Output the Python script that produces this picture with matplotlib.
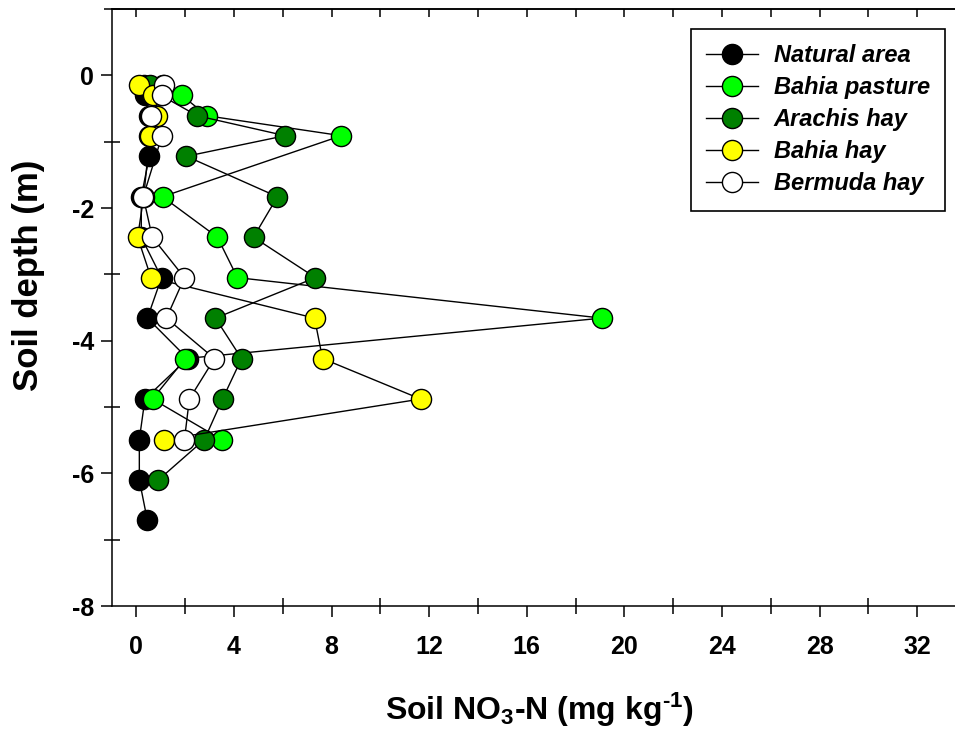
import matplotlib
matplotlib.use("Agg")
import matplotlib.pyplot as plt
from matplotlib.ticker import MultipleLocator, NullFormatter

plt.rcParams['font.family'] = ['Liberation Sans', 'DejaVu Sans']
plt.rcParams['axes.unicode_minus'] = False
plt.rcParams['mathtext.fontset'] = 'custom'
plt.rcParams['mathtext.rm'] = 'Liberation Sans:bold'
plt.rcParams['mathtext.bf'] = 'Liberation Sans:bold'
plt.rcParams['mathtext.default'] = 'bf'

# sampling depths (m), 0.5 ft .. 22 ft
depth_all = [-0.15, -0.30, -0.61, -0.91, -1.22, -1.83, -2.44, -3.05,
             -3.66, -4.27, -4.88, -5.49, -6.10, -6.71]
depth_arachis = depth_all[:13]
# no 1.22 m sample for these three
depth_pasture = [-0.15, -0.30, -0.61, -0.91, -1.83, -2.44, -3.05,
                 -3.66, -4.27, -4.88, -5.49]
depth_hay = [-0.15, -0.30, -0.61, -0.91, -1.83, -2.44, -3.05,
             -3.66, -4.27, -4.88, -5.49]

# soil NO3-N (mg/kg)
natural_area = [0.3, 0.35, 0.5, 0.5, 0.53, 0.2, 0.2, 1.03, 0.45, 2.1,
                0.35, 0.12, 0.12, 0.45]
bahia_pasture = [1.1, 1.85, 2.9, 8.4, 1.07, 3.32, 4.14, 19.08, 2.0, 0.66, 3.49]
arachis_hay = [0.55, 1.0, 2.5, 6.1, 2.05, 5.78, 4.8, 7.34, 3.24, 4.31,
               3.53, 2.79, 0.9]
bahia_hay = [0.1, 0.7, 0.85, 0.55, 0.3, 0.05, 0.6, 7.3, 7.63, 11.65, 1.15]
bermuda_hay = [1.15, 1.05, 0.6, 1.05, 0.28, 0.65, 1.97, 1.23, 3.2,
               2.17, 1.97]

series = [
    ('Natural area', natural_area, depth_all, 'black'),
    ('Bahia pasture', bahia_pasture, depth_pasture, '#00ff00'),
    ('Arachis hay', arachis_hay, depth_arachis, '#008000'),
    ('Bahia hay', bahia_hay, depth_hay, '#ffff00'),
    ('Bermuda hay', bermuda_hay, depth_hay, 'white'),
]

W, H = 955, 740
fig = plt.figure(figsize=(W / 100, H / 100), dpi=100)
ax = fig.add_axes([112 / W, 1 - 606 / H, (966 - 112) / W, (606 - 9) / H])

for name, x, d, c in series:
    ax.plot(x, d, '-', color='black', lw=1.0, marker='o', ms=14.5,
            mfc=c, mec='black', mew=1.0, label=name)

ax.set_xlim(-1, 34)
ax.set_ylim(-8, 1)

ax.xaxis.set_major_locator(MultipleLocator(4))
ax.xaxis.set_minor_locator(MultipleLocator(2))
ax.yaxis.set_major_locator(MultipleLocator(2))
ax.yaxis.set_minor_locator(MultipleLocator(1))
ax.set_xticks(range(0, 33, 4))

ax.tick_params(which='major', direction='out', length=8, width=1.1,
               labelsize=18, top=False, right=False)
ax.tick_params(which='minor', direction='inout', length=11, width=1.1,
               top=False, right=False)
ax.tick_params(axis='x', which='major', pad=13)
ax.tick_params(axis='y', which='major', pad=5)
for lab in ax.get_xticklabels() + ax.get_yticklabels():
    lab.set_fontweight('bold')

# top axis: inward ticks every 2 units, no labels
sec = ax.secondary_xaxis('top')
sec.xaxis.set_major_locator(MultipleLocator(2))
sec.xaxis.set_major_formatter(NullFormatter())
sec.tick_params(direction='in', length=6, width=1.1)
sec.spines['top'].set_linewidth(1.1)

ax.spines['right'].set_visible(False)
for s in ['left', 'bottom', 'top']:
    ax.spines[s].set_linewidth(1.1)

ax.set_xlabel('Soil NO$_\\mathbf{3}$-N (mg kg$^\\mathbf{\u20101}$)',
              fontsize=23, fontweight='bold')
ax.set_ylabel('Soil depth (m)', fontsize=25, fontweight='bold')
ax.xaxis.set_label_coords(0.5, -0.142)
ax.yaxis.set_label_coords(-0.078, 0.554)

leg = ax.legend(loc='upper right', bbox_to_anchor=(945 / W, 1 - 29 / H),
                bbox_transform=fig.transFigure, borderaxespad=0,
                fancybox=False, framealpha=1, edgecolor='black',
                prop={'weight': 'bold', 'style': 'italic', 'size': 17},
                handlelength=2.2, handletextpad=0.64, labelspacing=0.38,
                borderpad=0.65)
leg.get_frame().set_linewidth(1.2)

fig.savefig('out.png', dpi=100)
